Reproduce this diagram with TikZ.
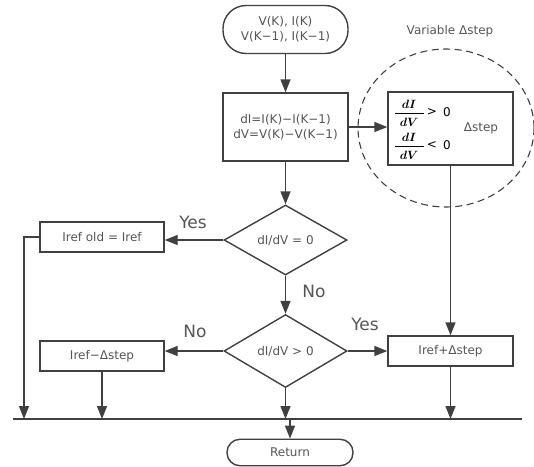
\documentclass[tikz,border=0pt]{standalone}
\usepackage{amsmath}
\usepackage{fontspec}
\setmainfont{DejaVu Sans}
\usetikzlibrary{arrows.meta,shapes.geometric}
\definecolor{linec}{HTML}{404040}
\definecolor{textc}{HTML}{555555}
\begin{document}
\begin{tikzpicture}[x=1pt,y=-1pt,
  ln/.style={draw=linec, line width=1.4pt},
  arr/.style={ln, -{Triangle[length=13pt,width=10pt]}},
  boxs/.style={ln, rectangle, fill=white, inner sep=0pt, text=textc,
    font=\fontsize{12}{15}\selectfont, align=center},
  term/.style={boxs, rounded corners=13pt},
  dia/.style={ln, diamond, aspect=1.76, inner sep=0pt, text=textc,
    font=\fontsize{12}{15}\selectfont},
  lab/.style={text=textc, font=\fontsize{17}{20}\selectfont, inner sep=0pt},
  small/.style={text=textc, font=\fontsize{12}{14}\selectfont, inner sep=0pt},
  frac/.style={text=black, font=\fontsize{12}{14}\selectfont, inner sep=0pt}
]
\useasboundingbox (0,0) rectangle (534,466);

% dashed region
\draw[draw=linec, line width=1.1pt, dash pattern=on 7pt off 4.5pt] (446,128) ellipse [x radius=88, y radius=79];
\node[small] (vartitle) at (450,31) {Variable Δstep};

% nodes
\node[term, rounded corners=23pt, minimum width=125pt, minimum height=48pt] (start) at (285.5,29.5) {V(K), I(K)\\V(K−1), I(K−1)};
\node[boxs, minimum width=125pt, minimum height=68pt] (box1) at (285.5,127) {dI=I(K)−I(K−1)\\dV=V(K)−V(K−1)};
\node[boxs, minimum width=125pt, minimum height=73pt] (box2) at (450.5,128.5) {};
\node[dia, minimum width=123pt, minimum height=70pt] (d1) at (285.5,240) {dI/dV = 0};
\node[dia, minimum width=123pt, minimum height=73pt] (d2) at (285.5,351) {dI/dV > 0};
\node[boxs, minimum width=124pt, minimum height=30pt] (irefold) at (102,237) {Iref old = Iref};
\node[boxs, minimum width=124pt, minimum height=30pt] (irefminus) at (102,356) {Iref−Δstep};
\node[boxs, minimum width=125pt, minimum height=30pt] (irefplus) at (450.5,351) {Iref+Δstep};
\node[term, minimum width=126pt, minimum height=26.5pt] (ret) at (290,452.5) {Return};

% contents of the step box
\node[frac] (n1) at (409,104.5) {$\boldsymbol{dI}$};
\node[frac] (m1) at (409,122) {$\boldsymbol{dV}$};
\draw[draw=black, line width=0.9pt] (395,113) -- (424,113);
\node[frac] (g1) at (432,112) {>};
\node[frac] (z1) at (447,112) {0};
\node[frac] (n2) at (409,137.5) {$\boldsymbol{dI}$};
\node[frac] (m2) at (409,155) {$\boldsymbol{dV}$};
\draw[draw=black, line width=0.9pt] (395,146) -- (424,146);
\node[frac] (l2) at (432,145) {<};
\node[frac] (z2) at (447,145) {0};
\node[small] (dstep) at (481,128) {Δstep};

% bus
\coordinate (busL) at (13,419);
\coordinate (busR) at (522,419);
\coordinate (leftdrop) at (24,419);
\draw[ln] (busL) -- (busR);

% connectors
\draw[arr] (start) -- (box1);
\draw[arr] (box1.east) -- (box1.east -| box2.west);
\draw[arr] (box1) -- (d1);
\draw[arr] (d1.west) -- (d1.west -| irefold.east);
\draw[arr] (d1) -- (d2);
\draw[arr] (d2.west) -- (d2.west -| irefminus.east);
\draw[arr] (d2.east) -- (d2.east -| irefplus.west);
\draw[arr] (box2.south) -- (irefplus.north);
\draw[arr] (irefold.west) -| (leftdrop);
\draw[arr] (irefminus.south) -- (irefminus.south |- busL);
\draw[arr] (d2.south) -- (d2.south |- busL);
\draw[arr] (irefplus.south) -- (irefplus.south |- busL);
\draw[arr] (busL -| ret.north) -- (ret.north);

% labels
\node[lab] (yes1) at (193,222) {Yes};
\node[lab] (no1) at (314,291) {No};
\node[lab] (no2) at (195,331) {No};
\node[lab] (yes2) at (365,324) {Yes};
\end{tikzpicture}
\end{document}
